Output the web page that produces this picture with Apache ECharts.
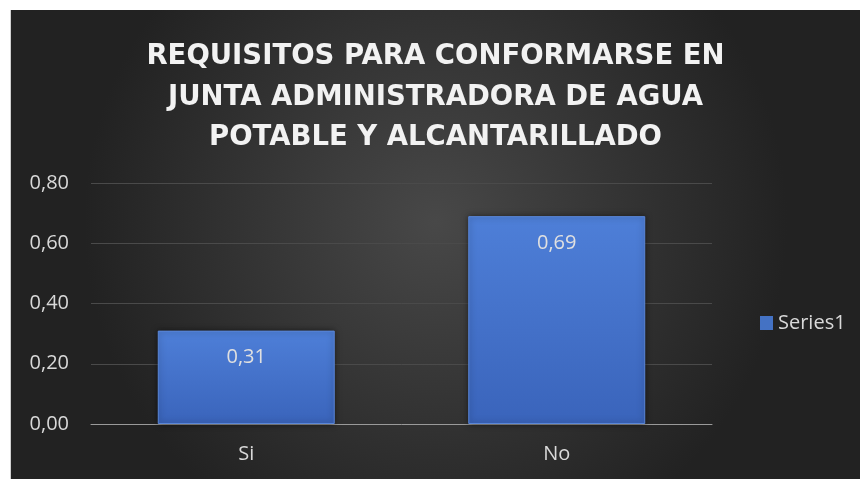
<!DOCTYPE html>
<html><head><meta charset="utf-8">
<script src="https://cdn.jsdelivr.net/npm/echarts@6/dist/echarts.min.js"></script>
<style>html,body{margin:0;padding:0;background:#fff;width:860px;height:479px;overflow:hidden}
#c{position:absolute;left:10px;top:10px;width:850px;height:469px;border-left:1px solid #d0d0d0;box-sizing:border-box}</style>
</head><body><div id="c"></div>
<script>
const titleText = 'REQUISITOS PARA CONFORMARSE EN\nJUNTA ADMINISTRADORA DE AGUA\nPOTABLE Y ALCANTARILLADO';
const categories = ['Si', 'No'];
const seriesName = 'Series1';
const values = [0.31, 0.69];
const yTicks = [0, 0.2, 0.4, 0.6, 0.8];
const fmt = v => v.toFixed(2).replace('.', ',');
const chart = echarts.init(document.getElementById('c'));
chart.setOption({
  backgroundColor: {type:'radial', x:0.5, y:0.45, r:0.75, colorStops:[{offset:0,color:'#484848'},{offset:1,color:'#222222'}]},
  title: {text: titleText, left: 'center', top: 22,
    textStyle: {color:'#f2f2f2', fontSize: 27.5, fontWeight:'bold', fontFamily:'DejaVu Sans', lineHeight: 40.5}},
  legend: {data:[seriesName], left: 744, top: 298, itemWidth: 13, itemHeight: 14, itemGap: 6, icon:'rect',
    itemStyle:{borderWidth:0, color:'#4472c4'},
    textStyle:{color:'#d9d9d9', fontSize:20, fontFamily:'Open Sans'}},
  grid: {left: 80, right: 148, top: 173, bottom: 55, containLabel: false},
  xAxis: {type:'category', data: categories,
    axisLine:{show:true, lineStyle:{color:'#9a9a9a', width:1}}, axisTick:{show:false},
    axisLabel:{color:'#d9d9d9', fontSize:20, fontFamily:'Open Sans', margin:20}},
  yAxis: {type:'value', min:0, max:0.8, interval:0.2,
    axisLine:{show:false}, axisTick:{show:false},
    axisLabel:{color:'#d9d9d9', fontSize:20, fontFamily:'Open Sans', margin:22, formatter: v => fmt(v)},
    splitLine:{lineStyle:{color:'#4a4a4a', width:1}}},
  series: [{name: seriesName, type:'bar', data: values, barWidth:'57%',
    itemStyle:{color:{type:'linear',x:0,y:0,x2:0,y2:1,colorStops:[{offset:0,color:'#4e7fd8'},{offset:1,color:'#3a64bb'}]},
      borderColor:'#5a86d8', borderWidth:1, shadowColor:'rgba(0,0,0,0.5)', shadowBlur:6},
    label:{show:true, position:'insideTop', distance:17, color:'#e0e0e0', fontSize:20, fontFamily:'Open Sans', formatter: p => fmt(p.value)}}]
});
</script></body></html>
